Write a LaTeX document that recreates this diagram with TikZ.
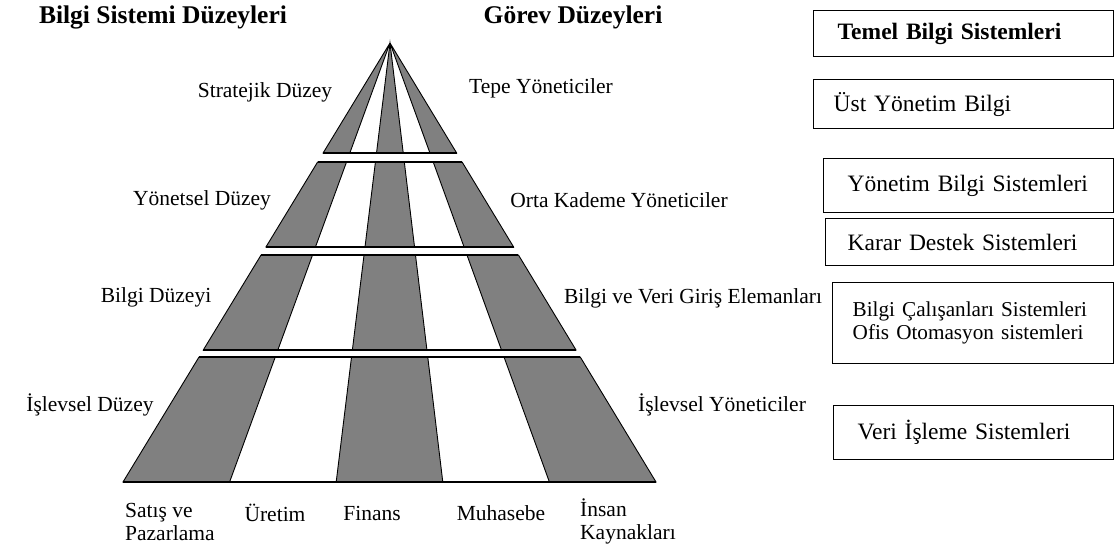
\documentclass[tikz,border=0pt]{standalone}
\usepackage{fontspec}
\setmainfont{Liberation Serif}
\usetikzlibrary{calc}
\definecolor{stripegray}{RGB}{128,128,128}
\begin{document}
\begin{tikzpicture}[x=1pt,y=-1pt,
  lab/.style={inner sep=0pt,font=\fontsize{21.5}{23}\selectfont},
  head/.style={inner sep=0pt,font=\fontsize{25.5}{28}\selectfont\bfseries},
  sysbox/.style={draw,line width=1.4pt,anchor=north west,align=left,inner ysep=0pt,
    font=\fontsize{23.5}{23}\selectfont},
  stripe/.style={draw,fill=stripegray,line width=0.9pt,line join=miter},
  rim/.style={line width=1.1pt}]
\useasboundingbox (0,0) rectangle (1116,550);

% apex and the six base points that split the pyramid into five stripes
\coordinate (A) at (390,43);
\foreach \k in {0,...,5}{
  \coordinate (B\k) at ({123+\k*106.6},482);
}

% four bands: start and end ratio along apex->base
\foreach \ta/\tb [count=\n] in {0/0.2506, 0.2711/0.4647, 0.4829/0.6993, 0.7153/1}{
  \foreach \k in {0,2,4}{
    \pgfmathtruncatemacro{\kk}{\k+1}
    \path[stripe] ($(A)!\ta!(B\k)$) -- ($(A)!\ta!(B\kk)$)
                 -- ($(A)!\tb!(B\kk)$) -- ($(A)!\tb!(B\k)$) -- cycle;
  }
  \draw[rim] ($(A)!\tb!(B0)$) -- ($(A)!\tb!(B5)$);
  \ifnum\n>1
    \draw[rim] ($(A)!\ta!(B0)$) -- ($(A)!\ta!(B5)$);
  \fi
}

% column headings
\node[head] (hsys) at (163,17) {Bilgi Sistemi Düzeyleri};
\node[head] (htask) at (573,17) {Görev Düzeyleri};

% level names (left) and task levels (right)
\node[lab] (l1) at (265,92) {Stratejik Düzey};
\node[lab] (l2) at (202,200) {Yönetsel Düzey};
\node[lab] (l3) at (156,297) {Bilgi Düzeyi};
\node[lab] (l4) at (90,405) {İşlevsel Düzey};
\node[lab] (r1) at (541,88) {Tepe Yöneticiler};
\node[lab] (r2) at (619,200) {Orta Kademe Yöneticiler};
\node[lab] (r3) at (693,298) {Bilgi ve Veri Giriş Elemanları};
\node[lab] (r4) at (722,405) {İşlevsel Yöneticiler};

% functional areas under the base
\node[lab,align=left,anchor=west] (f1) at (125,521.5) {Satış ve\\Pazarlama};
\node[lab] (f2) at (275,513) {Üretim};
\node[lab] (f3) at (372,513) {Finans};
\node[lab] (f4) at (501,513) {Muhasebe};
\node[lab,align=left,anchor=west] (f5) at (580,521.5) {İnsan\\Kaynakları};

% information system boxes
\node[sysbox,minimum width=300,minimum height=46,inner xsep=24,text width=252,font=\fontsize{23.5}{23}\selectfont\bfseries]
  (s1) at (813,10) {Temel Bilgi Sistemleri};
\node[sysbox,minimum width=300,minimum height=49,inner xsep=20,text width=260]
  (s2) at (813,79) {Üst Yönetim Bilgi};
\node[sysbox,minimum width=290,minimum height=54,inner xsep=24,text width=242]
  (s3) at (823,158) {Yönetim Bilgi Sistemleri};
\node[sysbox,minimum width=288,minimum height=47,inner xsep=22,text width=244]
  (s4) at (825,218) {Karar Destek Sistemleri};
\node[sysbox,minimum width=281,minimum height=81,inner xsep=20,text width=241,
  font=\fontsize{21.2}{23}\selectfont]
  (s5) at (832,282) {Bilgi Çalışanları Sistemleri\\Ofis Otomasyon sistemleri};
\node[sysbox,minimum width=280,minimum height=54,inner xsep=24,text width=232]
  (s6) at (833,405) {Veri İşleme Sistemleri};
\end{tikzpicture}
\end{document}
